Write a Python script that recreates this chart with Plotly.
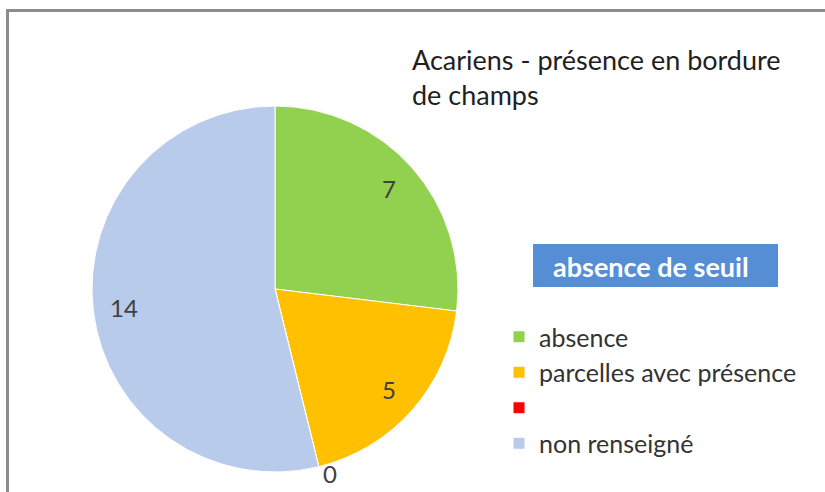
import math
import plotly.graph_objects as go

W, H = 825, 492

labels = ["absence", "parcelles avec présence", " ", "non renseigné"]
values = [7, 5, 0, 14]
colors = ["#92D050", "#FFC000", "#FF0000", "#B9CBEA"]

title_text = "Acariens - présence en bordure<br>de champs"
box_text = "absence de seuil"

FONT = "Lato, 'Open Sans', sans-serif"

# pie geometry (pixels)
CX, CY, R = 275, 289, 183

fig = go.Figure()
fig.add_trace(go.Pie(
    labels=labels,
    values=values,
    sort=False,
    direction="clockwise",
    rotation=0,
    marker=dict(colors=colors, line=dict(color="#FFFFFF", width=1)),
    textinfo="none",
    domain=dict(x=[(CX - R) / W, (CX + R) / W], y=[1 - (CY + R) / H, 1 - (CY - R) / H]),
    hoverinfo="label+value",
))

# data labels placed along each slice's bisector
total = sum(values)
annotations = []
cum = 0
for v in values:
    if v > 0:
        ang = (cum + v / 2) / total * 2 * math.pi
        rr = 0.83 * R
    else:
        ang = cum / total * 2 * math.pi - 0.05
        rr = 1.05 * R
    px = CX + rr * math.sin(ang)
    py = CY - rr * math.cos(ang)
    annotations.append(dict(text=str(v), xref="paper", yref="paper",
                            x=px / W, y=1 - py / H, xanchor="center", yanchor="middle",
                            showarrow=False,
                            font=dict(family=FONT, size=24, color="#404040")))
    cum += v

annotations.append(dict(text=title_text, xref="paper", yref="paper",
                        x=410 / W, y=1 - 41 / H, xanchor="left", yanchor="top",
                        align="left", showarrow=False,
                        font=dict(family=FONT, size=27, color="#1F1F1F")))
annotations.append(dict(text=f"<b>{box_text}</b>", xref="paper", yref="paper",
                        x=651 / W, y=1 - 266 / H, xanchor="center", yanchor="middle",
                        showarrow=False, font=dict(family=FONT, size=27, color="white")))

fig.update_layout(
    width=W, height=H,
    margin=dict(l=0, r=0, t=0, b=0),
    paper_bgcolor="white",
    plot_bgcolor="white",
    legend=dict(x=499 / W, xanchor="left", y=1 - 314 / H, yanchor="top",
                font=dict(family=FONT, size=25, color="#333333"),
                bgcolor="rgba(0,0,0,0)"),
    shapes=[
        dict(type="path", xref="paper", yref="paper",
             path=f"M {7.5/W},0 L {7.5/W},{1-10.5/H} L 1,{1-10.5/H}",
             line=dict(color="#8C8C8C", width=3)),
        dict(type="rect", xref="paper", yref="paper",
             x0=533 / W, x1=778 / W, y0=1 - 287 / H, y1=1 - 244 / H,
             fillcolor="#558ED5", line=dict(width=0)),
    ],
    annotations=annotations,
)

fig.write_html("out.html", config={"displayModeBar": False},
               post_script="document.body.style.margin='0';document.body.style.padding='0';")
